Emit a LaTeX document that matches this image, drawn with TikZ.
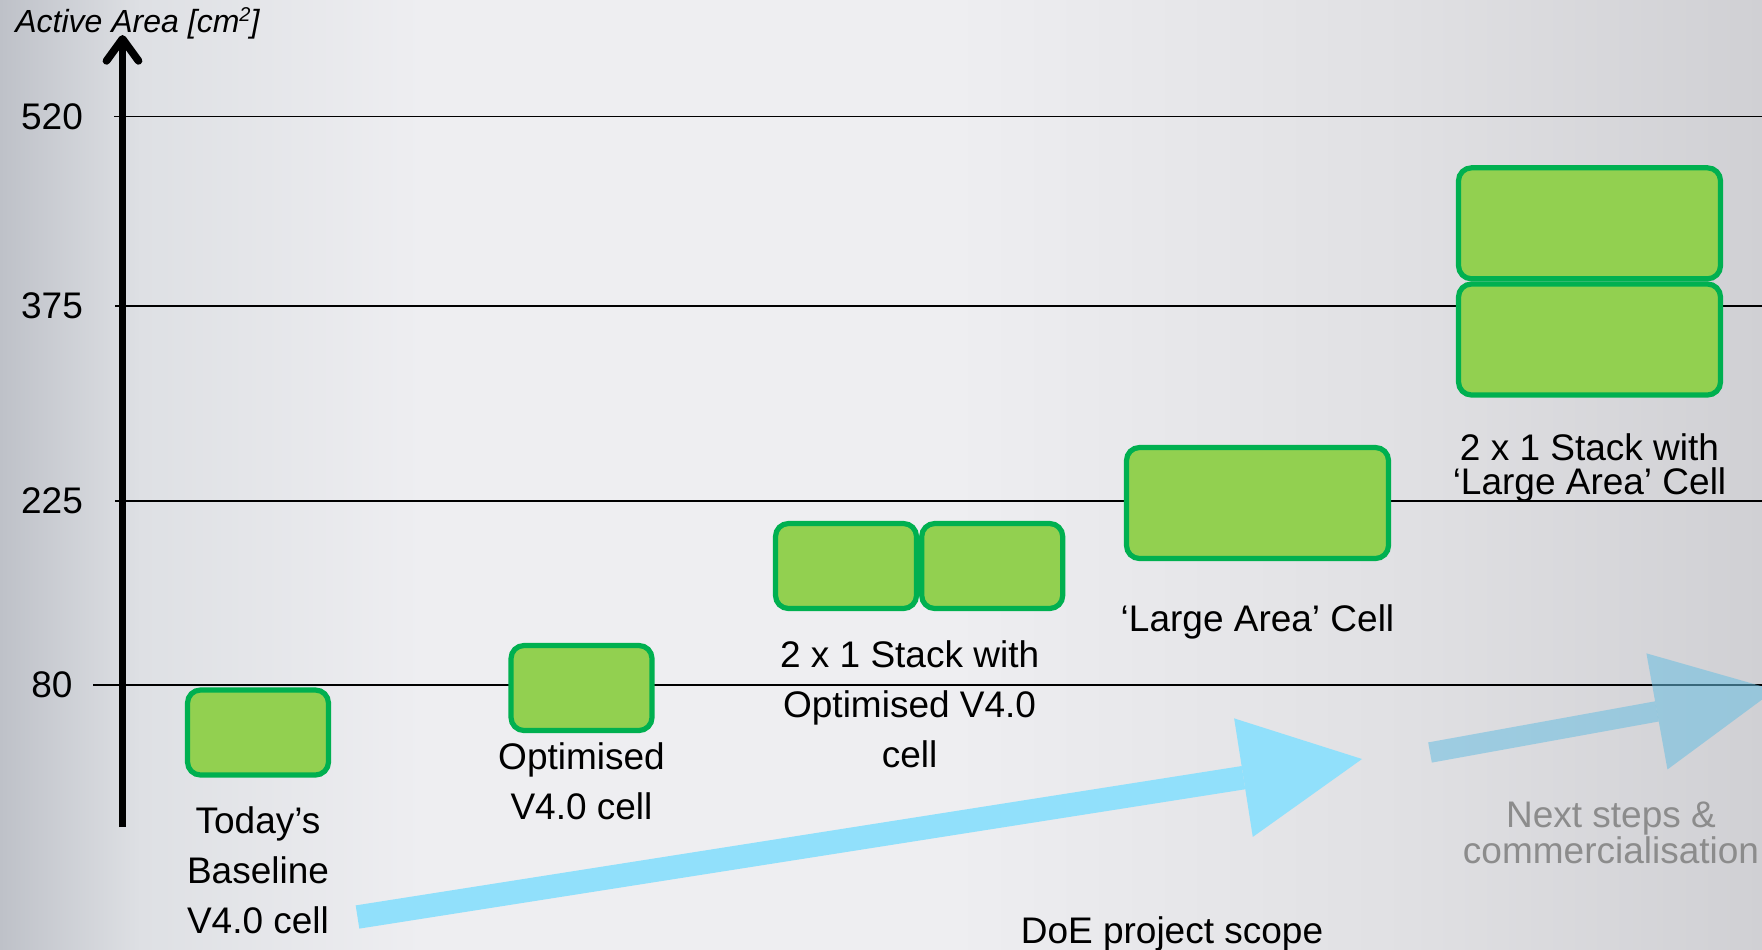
\documentclass[tikz,border=0pt]{standalone}
\usepackage{fontspec}
\setmainfont{Liberation Sans}
\usetikzlibrary{positioning,arrows.meta}

\definecolor{cellfill}{RGB}{146,208,80}
\definecolor{celledge}{RGB}{0,176,80}
\definecolor{doeblue}{RGB}{145,224,251}
\definecolor{nextblue}{RGB}{105,190,225}
\definecolor{nextgray}{RGB}{140,140,140}
\definecolor{bgA}{RGB}{190,193,200}
\definecolor{bgB}{RGB}{222,224,228}
\definecolor{bgC}{RGB}{238,238,241}
\definecolor{bgD}{RGB}{224,224,227}
\definecolor{bgE}{RGB}{208,208,212}
\pgfdeclarehorizontalshading{brushed}{100bp}{color(0bp)=(bgA); color(25bp)=(bgA); color(29bp)=(bgB); color(37bp)=(bgC); color(52bp)=(bgC); color(65bp)=(bgD); color(75bp)=(bgE); color(100bp)=(bgE)}

\begin{document}
\begin{tikzpicture}[x=0.5pt,y=-0.5pt,
	cell/.style={draw=celledge, fill=cellfill, line width=2.6pt, rounded corners=6.5pt, minimum width=70.5pt, minimum height=42.5pt, inner sep=0pt},
	bigcell/.style={cell, minimum width=131pt, minimum height=55.5pt},
	lbl/.style={align=center, inner sep=0pt, font=\fontsize{18.5}{25}\selectfont},
	tick/.style={inner sep=0pt, font=\fontsize{18.5}{22}\selectfont},
	grid/.style={line width=0.85pt},
	doearrow/.style={draw=doeblue, line width=11.75pt, -{Triangle[length=60pt,width=60pt,line width=0pt]}},
	nextarrow/.style={draw=nextblue, opacity=0.55, line width=10.25pt, -{Triangle[length=60pt,width=59pt,line width=0pt]}}]

	\useasboundingbox (0,0) rectangle (1762,949);
	\clip (0,0) rectangle (1762,949);
	\shade[shading=brushed] (0,0) rectangle (1762,949);

	% scale lines
	\foreach \val/\y/\x in {520/116.5/114, 375/306/115, 225/501/115, 80/685/93}{
		\node[tick] (v\val) at (52,\y) {\val};
		\draw[grid] (\x,\y) -- (1762,\y);
	}

	\coordinate (axisbot) at (122.5,827);
	\coordinate (axistop) at (122.5,35);
	\draw[line width=3.85pt, -{Straight Barb[length=11pt,width=16pt,round]}] (axisbot) -- (axistop);
	\node[anchor=base west, inner sep=0pt, font=\fontsize{16}{18}\selectfont\itshape] (title) at (15,32.7) {Active Area [cm\raisebox{0.35em}{\fontsize{10}{10}\selectfont 2}]};

	\node[cell] (base) at (258,732.5) {};
	\node[cell] (opt) at (581.5,688) {};
	\node[cell] (stackL) at (846,566) {};
	\node[cell, right=0pt of stackL] (stackR) {};
	\node[bigcell] (large) at (1257.5,503) {};
	\node[bigcell] (topL) at (1589.5,339.5) {};
	\node[bigcell, above=0pt of topL] (topU) {};

	\node[lbl, below=14.3pt of base] (baselbl) {Today’s\\Baseline\\V4.0 cell};
	\node[lbl, below=4.5pt of opt] (optlbl) {Optimised\\V4.0 cell};
	\node[lbl, below=14.8pt of stackL.south east, xshift=-4.75pt] (stacklbl) {2 x 1 Stack with\\Optimised V4.0\\cell};
	\node[lbl, below=21.8pt of large] (largelbl) {‘Large Area’ Cell};
	\node[lbl, font=\fontsize{18.5}{17}\selectfont, below=17.8pt of topL] (toplbl) {2 x 1 Stack with\\‘Large Area’ Cell};

	% project arrows
	\coordinate (doetail) at (357.5,917);
	\coordinate (doetip) at (1362,759);
	\draw[doearrow] (doetail) -- (doetip);
	\node[lbl, anchor=base] (doelbl) at (1172,943) {DoE project scope};

	\coordinate (nexttail) at (1430,752.5);
	\coordinate (nexttip) at (1775,690);
	\draw[nextarrow] (nexttail) -- (nexttip);
	\node[lbl, text=nextgray, font=\fontsize{18.5}{15.5}\selectfont, anchor=north] (nextlbl) at (1611,801) {Next steps \&\\commercialisation};
\end{tikzpicture}
\end{document}
